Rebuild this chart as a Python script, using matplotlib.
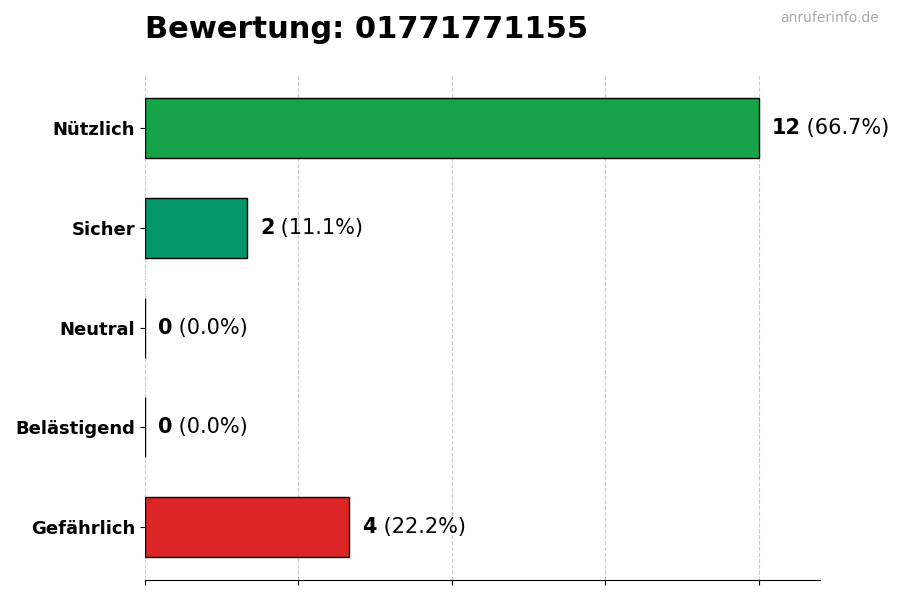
import matplotlib
matplotlib.use("Agg")
import matplotlib.pyplot as plt

categories = ["Nützlich", "Sicher", "Neutral", "Belästigend", "Gefährlich"]
values = [12, 2, 0, 0, 4]
percents = ["66.7%", "11.1%", "0.0%", "0.0%", "22.2%"]
colors = ["#16a34a", "#059669", "#6b7280", "#f97316", "#dc2626"]

fig = plt.figure(figsize=(9, 6), dpi=100)
ax = fig.add_axes([0.161, 0.033, 0.75, 0.842])
y = list(range(len(categories)))[::-1]
ax.barh(y, values, height=0.6, color=colors, edgecolor="black", linewidth=1, zorder=3)
ax.set_xlim(0, 13.2)
ax.set_ylim(-0.53, 4.53)
ax.set_xticks([0, 3, 6, 9, 12])
ax.set_xticklabels([])
ax.set_yticks(y)
ax.set_yticklabels(categories, fontsize=13, fontweight="bold")
ax.grid(axis="x", linestyle="--", color="#cccccc", linewidth=0.8, zorder=0)
for s in ["top", "right", "left"]:
    ax.spines[s].set_visible(False)
for yi, v, p in zip(y, values, percents):
    ax.annotate("", (v, yi))
    t = ax.text(v + 0.25, yi, f"{v}", fontsize=15, fontweight="bold", va="center", ha="left")
    ax.annotate(f" ({p})", xycoords=t, xy=(1, 0.5), va="center", ha="left", fontsize=15)
fig.text(0.161, 0.95, "Bewertung: 01771771155", fontsize=22, fontweight="bold", ha="left", va="center")
fig.text(0.977, 0.97, "anruferinfo.de", fontsize=10, color="#aaaaaa", ha="right", va="center")
fig.savefig("out.png")
